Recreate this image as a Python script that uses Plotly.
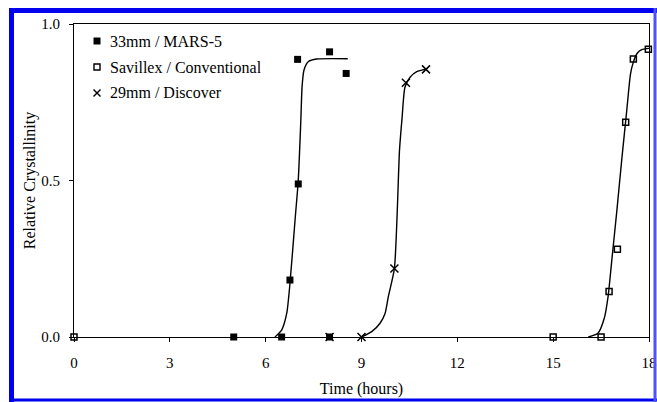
import plotly.graph_objects as go

# ---- data ----
mars_t = [5.0, 6.5, 6.76, 7.02, 7.0, 8.0, 8.0, 8.52]
mars_v = [0.0, 0.0, 0.182, 0.489, 0.887, 0.911, 0.0, 0.842]

sav_t = [0.0, 15.0, 16.5, 16.75, 17.01, 17.27, 17.51, 17.98]
sav_v = [0.0, 0.0, 0.0, 0.145, 0.28, 0.686, 0.888, 0.919]

disc_t = [8.0, 9.0, 10.03, 10.39, 11.02]
disc_v = [0.0, 0.0, 0.219, 0.812, 0.855]

mars_fit_t = [6.29, 6.5, 6.66, 6.76, 6.92, 7.02, 7.10, 7.14, 7.20, 7.34, 7.6, 8.57]
mars_fit_v = [0.0, 0.022, 0.076, 0.17, 0.374, 0.5, 0.69, 0.8, 0.853, 0.88, 0.888, 0.889]

disc_fit_t = [9.0, 9.32, 9.58, 9.74, 9.84, 10.03, 10.19, 10.27, 10.36, 10.52, 10.73, 11.02]
disc_fit_v = [0.0, 0.017, 0.044, 0.076, 0.129, 0.219, 0.597, 0.70, 0.798, 0.83, 0.848, 0.856]

sav_fit_t = [16.1, 16.4, 16.6, 16.72, 16.85, 17.0, 17.15, 17.3, 17.42, 17.5, 17.62, 17.77, 18.0]
sav_fit_v = [0.0, 0.012, 0.06, 0.13, 0.26, 0.41, 0.57, 0.72, 0.84, 0.875, 0.905, 0.918, 0.922]

x_ticks = [0, 3, 6, 9, 12, 15, 18]
y_ticks = [0.0, 0.5, 1.0]
legend_labels = ["33mm / MARS-5", "Savillex / Conventional", "29mm / Discover"]

# page margin is removed in post_script, so figure pixels == window pixels
W, H = 657, 402
L, T = 74, 24
R = W - 649
B = H - 337
PW, PH = W - L - R, H - T - B

def px(x):
    """window pixel x -> paper x"""
    return (x - L) / PW

def py(y):
    """window pixel y -> paper y"""
    return (H - B - y) / PH

SERIF = "Liberation Serif, Times New Roman, serif"

fig = go.Figure()
line_style = dict(color="black", width=1.4, shape="spline", smoothing=0.6)
for ft, fv in [(mars_fit_t, mars_fit_v), (disc_fit_t, disc_fit_v), (sav_fit_t, sav_fit_v)]:
    fig.add_trace(go.Scatter(x=ft, y=fv, mode="lines", line=line_style,
                             showlegend=False, hoverinfo="skip", cliponaxis=False))

fig.add_trace(go.Scatter(x=mars_t, y=mars_v, mode="markers", name=legend_labels[0],
                         marker=dict(symbol="square", size=7, color="black"), cliponaxis=False))
fig.add_trace(go.Scatter(x=sav_t, y=sav_v, mode="markers", name=legend_labels[1],
                         marker=dict(symbol="square-open", size=6, color="black",
                                     line=dict(width=1.5, color="black")), cliponaxis=False))
fig.add_trace(go.Scatter(x=disc_t, y=disc_v, mode="markers", name=legend_labels[2],
                         marker=dict(symbol="x-thin", size=8, color="black",
                                     line=dict(width=1.5, color="black")), cliponaxis=False))

shapes = []
# blue frame around the whole picture (window pixel positions)
BLUE = "#0000F0"
frame = [
    (9, 10.5, 660, 10.5, 5, BLUE),      # top band
    (11.5, 8, 11.5, 405, 5, BLUE),      # left band
    (9, 400, 660, 400, 3, BLUE),        # bottom line
    (655, 8, 655, 405, 3, "#5050FF"),   # right edge
]
for x0, y0, x1, y1, w, c in frame:
    shapes.append(dict(type="line", xref="paper", yref="paper",
                       x0=px(x0), y0=py(y0), x1=px(x1), y1=py(y1),
                       line=dict(color=c, width=w), layer="above"))

# legend keys
lx = 97
ys = [41, 67, 93]
shapes.append(dict(type="rect", xref="paper", yref="paper",
                   x0=px(lx - 3.5), x1=px(lx + 3.5), y0=py(ys[0] + 3.5), y1=py(ys[0] - 3.5),
                   line=dict(width=0), fillcolor="black"))
shapes.append(dict(type="rect", xref="paper", yref="paper",
                   x0=px(lx - 3), x1=px(lx + 3), y0=py(ys[1] + 3), y1=py(ys[1] - 3),
                   line=dict(width=1.4, color="black"), fillcolor="rgba(0,0,0,0)"))
for (a, b, c, d) in [(-3.5, -3.5, 3.5, 3.5), (-3.5, 3.5, 3.5, -3.5)]:
    shapes.append(dict(type="line", xref="paper", yref="paper",
                       x0=px(lx + a), y0=py(ys[2] + b), x1=px(lx + c), y1=py(ys[2] + d),
                       line=dict(width=1.4, color="black")))

annotations = []
for lab, yy in zip(legend_labels, ys):
    annotations.append(dict(xref="paper", yref="paper", x=px(108), y=py(yy),
                            xanchor="left", yanchor="middle", text=lab, showarrow=False,
                            font=dict(family=SERIF, size=16, color="black")))

fig.update_layout(
    width=W, height=H,
    margin=dict(l=L, r=R, t=T, b=B, autoexpand=False),
    paper_bgcolor="white", plot_bgcolor="white",
    showlegend=False,
    shapes=shapes, annotations=annotations,
    font=dict(family=SERIF, size=15, color="black"),
)
fig.update_xaxes(range=[0, 18], tickvals=x_ticks, ticks="outside", ticklen=4,
                 tickcolor="black", showline=True, linecolor="black", linewidth=1,
                 mirror=True, showgrid=False, zeroline=False,
                 ticklabelstandoff=8, ticklabeloverflow="allow",
                 title=dict(text="Time (hours)", font=dict(family=SERIF, size=16), standoff=12))
fig.update_yaxes(range=[0, 1], tickvals=y_ticks, tickformat=".1f", ticks="outside", ticklen=4,
                 tickcolor="black", showline=True, linecolor="black", linewidth=1,
                 mirror=True, showgrid=False, zeroline=False,
                 ticklabelstandoff=6,
                 title=dict(text="Relative Crystallinity", font=dict(family=SERIF, size=16), standoff=1))

fig.write_html("out.html", config={"displayModeBar": False},
               post_script="document.body.style.margin='0';document.body.style.overflow='hidden';")
